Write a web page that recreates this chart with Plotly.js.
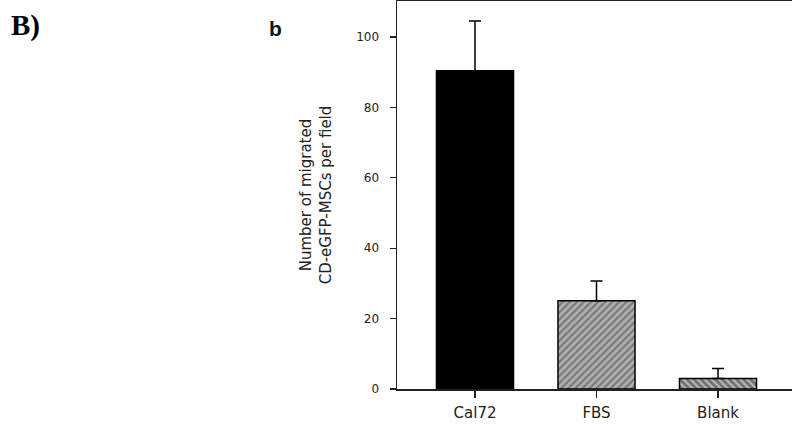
<!DOCTYPE html>
<html>
<head>
<meta charset="utf-8">
<script src="https://cdn.plot.ly/plotly-3.0.1.min.js"></script>
<style>html,body{margin:0;padding:0;background:#fff;}#chart{width:792px;height:425px;}</style>
</head>
<body>
<div id="chart"></div>
<script>
const categories = ["Cal72", "FBS", "Blank"];
const values = [90.4, 25.1, 3.0];
const errorsUp = [14.1, 5.6, 2.8];
const yTickValues = [0, 20, 40, 60, 80, 100];

const trace = {
  type: "bar",
  x: categories,
  y: values,
  width: 0.634,
  marker: {
    color: ["#000000", "#b0b0b0", "#707070"],
    line: {color: "#000", width: 1.5},
    pattern: {
      shape: ["", "/", "\\"],
      fillmode: "overlay",
      fgcolor: "#222222",
      size: 5,
      solidity: 0.45
    }
  },
  error_y: {
    type: "data",
    symmetric: false,
    array: errorsUp,
    arrayminus: [0, 0, 0],
    color: "#000",
    thickness: 1.5,
    width: 6
  },
  hoverinfo: "none"
};

const W = 395; // plot width in px (used for annotation paper coords)
const layout = {
  width: 792,
  height: 425,
  margin: {l: 397, r: 0, t: 1, b: 36},
  paper_bgcolor: "#fff",
  plot_bgcolor: "#fff",
  showlegend: false,
  bargap: 0,
  font: {family: "DejaVu Sans, Arial, sans-serif", color: "#222"},
  xaxis: {
    type: "category",
    range: [-0.642, 2.609],
    showline: true,
    linecolor: "#222",
    linewidth: 1.5,
    mirror: true,
    ticks: "outside",
    ticklen: 7,
    tickwidth: 1.2,
    tickcolor: "#222",
    showgrid: false,
    zeroline: false,
    tickfont: {family: "DejaVu Sans, Arial, sans-serif", size: 15, color: "#222"},
    ticklabelstandoff: 2,
    fixedrange: true
  },
  yaxis: {
    range: [0, 110.2],
    tickvals: yTickValues,
    ticktext: yTickValues.map(String),
    showline: true,
    linecolor: "#222",
    linewidth: 1.5,
    mirror: false,
    ticks: "outside",
    ticklen: 6,
    tickwidth: 1.2,
    tickcolor: "#222",
    showgrid: false,
    zeroline: false,
    tickfont: {family: "DejaVu Sans, Arial, sans-serif", size: 12, color: "#222"},
    ticklabelstandoff: 8,
    title: {
      text: "Number of migrated<br>CD-eGFP-MSCs per field",
      font: {family: "DejaVu Sans, Arial, sans-serif", size: 15, color: "#222"},
      standoff: 21
    },
    fixedrange: true
  },
  annotations: [
    {text: "<b>B)</b>", xref: "paper", yref: "paper", x: (9 - 397) / W, y: 1, xanchor: "left", yanchor: "top",
     yshift: -6, showarrow: false, font: {family: "Liberation Serif, Times New Roman, serif", size: 29, color: "#000"}},
    {text: "<b>b</b>", xref: "paper", yref: "paper", x: (267 - 397) / W, y: 1, xanchor: "left", yanchor: "top",
     yshift: -14, showarrow: false, font: {family: "Liberation Sans, Arial, sans-serif", size: 21, color: "#111"}}
  ]
};

Plotly.newPlot("chart", [trace], layout, {displayModeBar: false, staticPlot: true});
</script>
</body>
</html>
